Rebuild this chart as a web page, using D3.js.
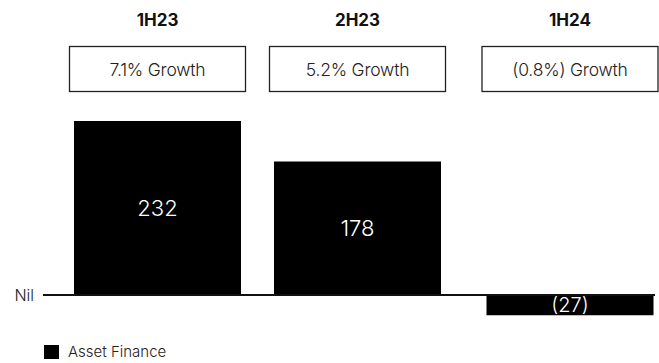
<!DOCTYPE html>
<html>
<head>
<meta charset="utf-8">
<script src="https://cdn.jsdelivr.net/npm/d3@7"></script>
<style>
  html, body { margin: 0; padding: 0; background: #fff; }
  svg { display: block; font-family: Inter, "Liberation Sans", sans-serif; }
</style>
</head>
<body>
<svg id="chart" width="659" height="363"></svg>
<script>
// Half-year periods, Asset Finance contribution and growth captions
const periods = ["1H23", "2H23", "1H24"];
const assetFinance = [232, 178, -27];
const valueLabels = ["232", "178", "(27)"];
const growthLabels = ["7.1% Growth", "5.2% Growth", "(0.8%) Growth"];
const seriesName = "Asset Finance";
const zeroLabel = "Nil";

const svg = d3.select("#chart");

// Column centres for each period
const xCenter = d3.scaleOrdinal().domain(periods).range([157.5, 357.5, 570]);
const barWidth = 167;
const boxWidth = 176;

// Value scale: 0 sits on the Nil line
const y = d3.scaleLinear().domain([0, 232]).range([295, 121]);

// Period headers
svg.selectAll("text.period")
  .data(periods)
  .join("text")
  .attr("class", "period")
  .attr("x", d => xCenter(d))
  .attr("y", 26)
  .attr("text-anchor", "middle")
  .attr("font-size", 17)
  .attr("font-weight", 700)
  .attr("fill", "#111")
  .text(d => d);

// Growth caption boxes
const boxes = svg.selectAll("g.growth")
  .data(periods.map((p, i) => ({ p, label: growthLabels[i] })))
  .join("g")
  .attr("class", "growth");

boxes.append("rect")
  .attr("x", d => xCenter(d.p) - boxWidth / 2)
  .attr("y", 46.5)
  .attr("width", boxWidth)
  .attr("height", 45)
  .attr("fill", "#fff")
  .attr("stroke", "#222")
  .attr("stroke-width", 1.3);

boxes.append("text")
  .attr("x", d => xCenter(d.p))
  .attr("y", 70)
  .attr("dy", "0.35em")
  .attr("text-anchor", "middle")
  .attr("font-size", 17.5)
  .attr("font-weight", 300)
  .attr("fill", "#222")
  .attr("letter-spacing", -0.2)
  .text(d => d.label);

// Bars
const data = periods.map((p, i) => ({ p, v: assetFinance[i], label: valueLabels[i] }));

svg.selectAll("rect.bar")
  .data(data)
  .join("rect")
  .attr("class", "bar")
  .attr("x", d => xCenter(d.p) - barWidth / 2)
  .attr("y", d => Math.min(y(d.v), y(0)))
  .attr("width", barWidth)
  .attr("height", d => Math.abs(y(d.v) - y(0)))
  .attr("fill", "#000");

// Value labels centred in each bar
svg.selectAll("text.value")
  .data(data)
  .join("text")
  .attr("class", "value")
  .attr("x", d => xCenter(d.p))
  .attr("y", d => (y(d.v) + y(0)) / 2)
  .attr("dy", "0.36em")
  .attr("text-anchor", "middle")
  .attr("font-size", d => d.v < 0 ? 20 : 22)
  .attr("font-weight", 300)
  .attr("fill", "#fff")
  .text(d => d.label);

// Nil baseline
svg.append("line")
  .attr("x1", 43)
  .attr("x2", 655)
  .attr("y1", y(0))
  .attr("y2", y(0))
  .attr("stroke", "#111")
  .attr("stroke-width", 2);

svg.append("text")
  .attr("x", 34)
  .attr("y", y(0))
  .attr("dy", "0.35em")
  .attr("text-anchor", "end")
  .attr("font-size", 16)
  .attr("font-weight", 300)
  .attr("fill", "#222")
  .text(zeroLabel);

// Legend
const legend = svg.append("g").attr("transform", "translate(44,345)");
legend.append("rect")
  .attr("width", 15)
  .attr("height", 14)
  .attr("fill", "#000");
legend.append("text")
  .attr("x", 24)
  .attr("y", 7)
  .attr("dy", "0.35em")
  .attr("font-size", 15)
  .attr("font-weight", 300)
  .attr("fill", "#222")
  .text(seriesName);
</script>
</body>
</html>
